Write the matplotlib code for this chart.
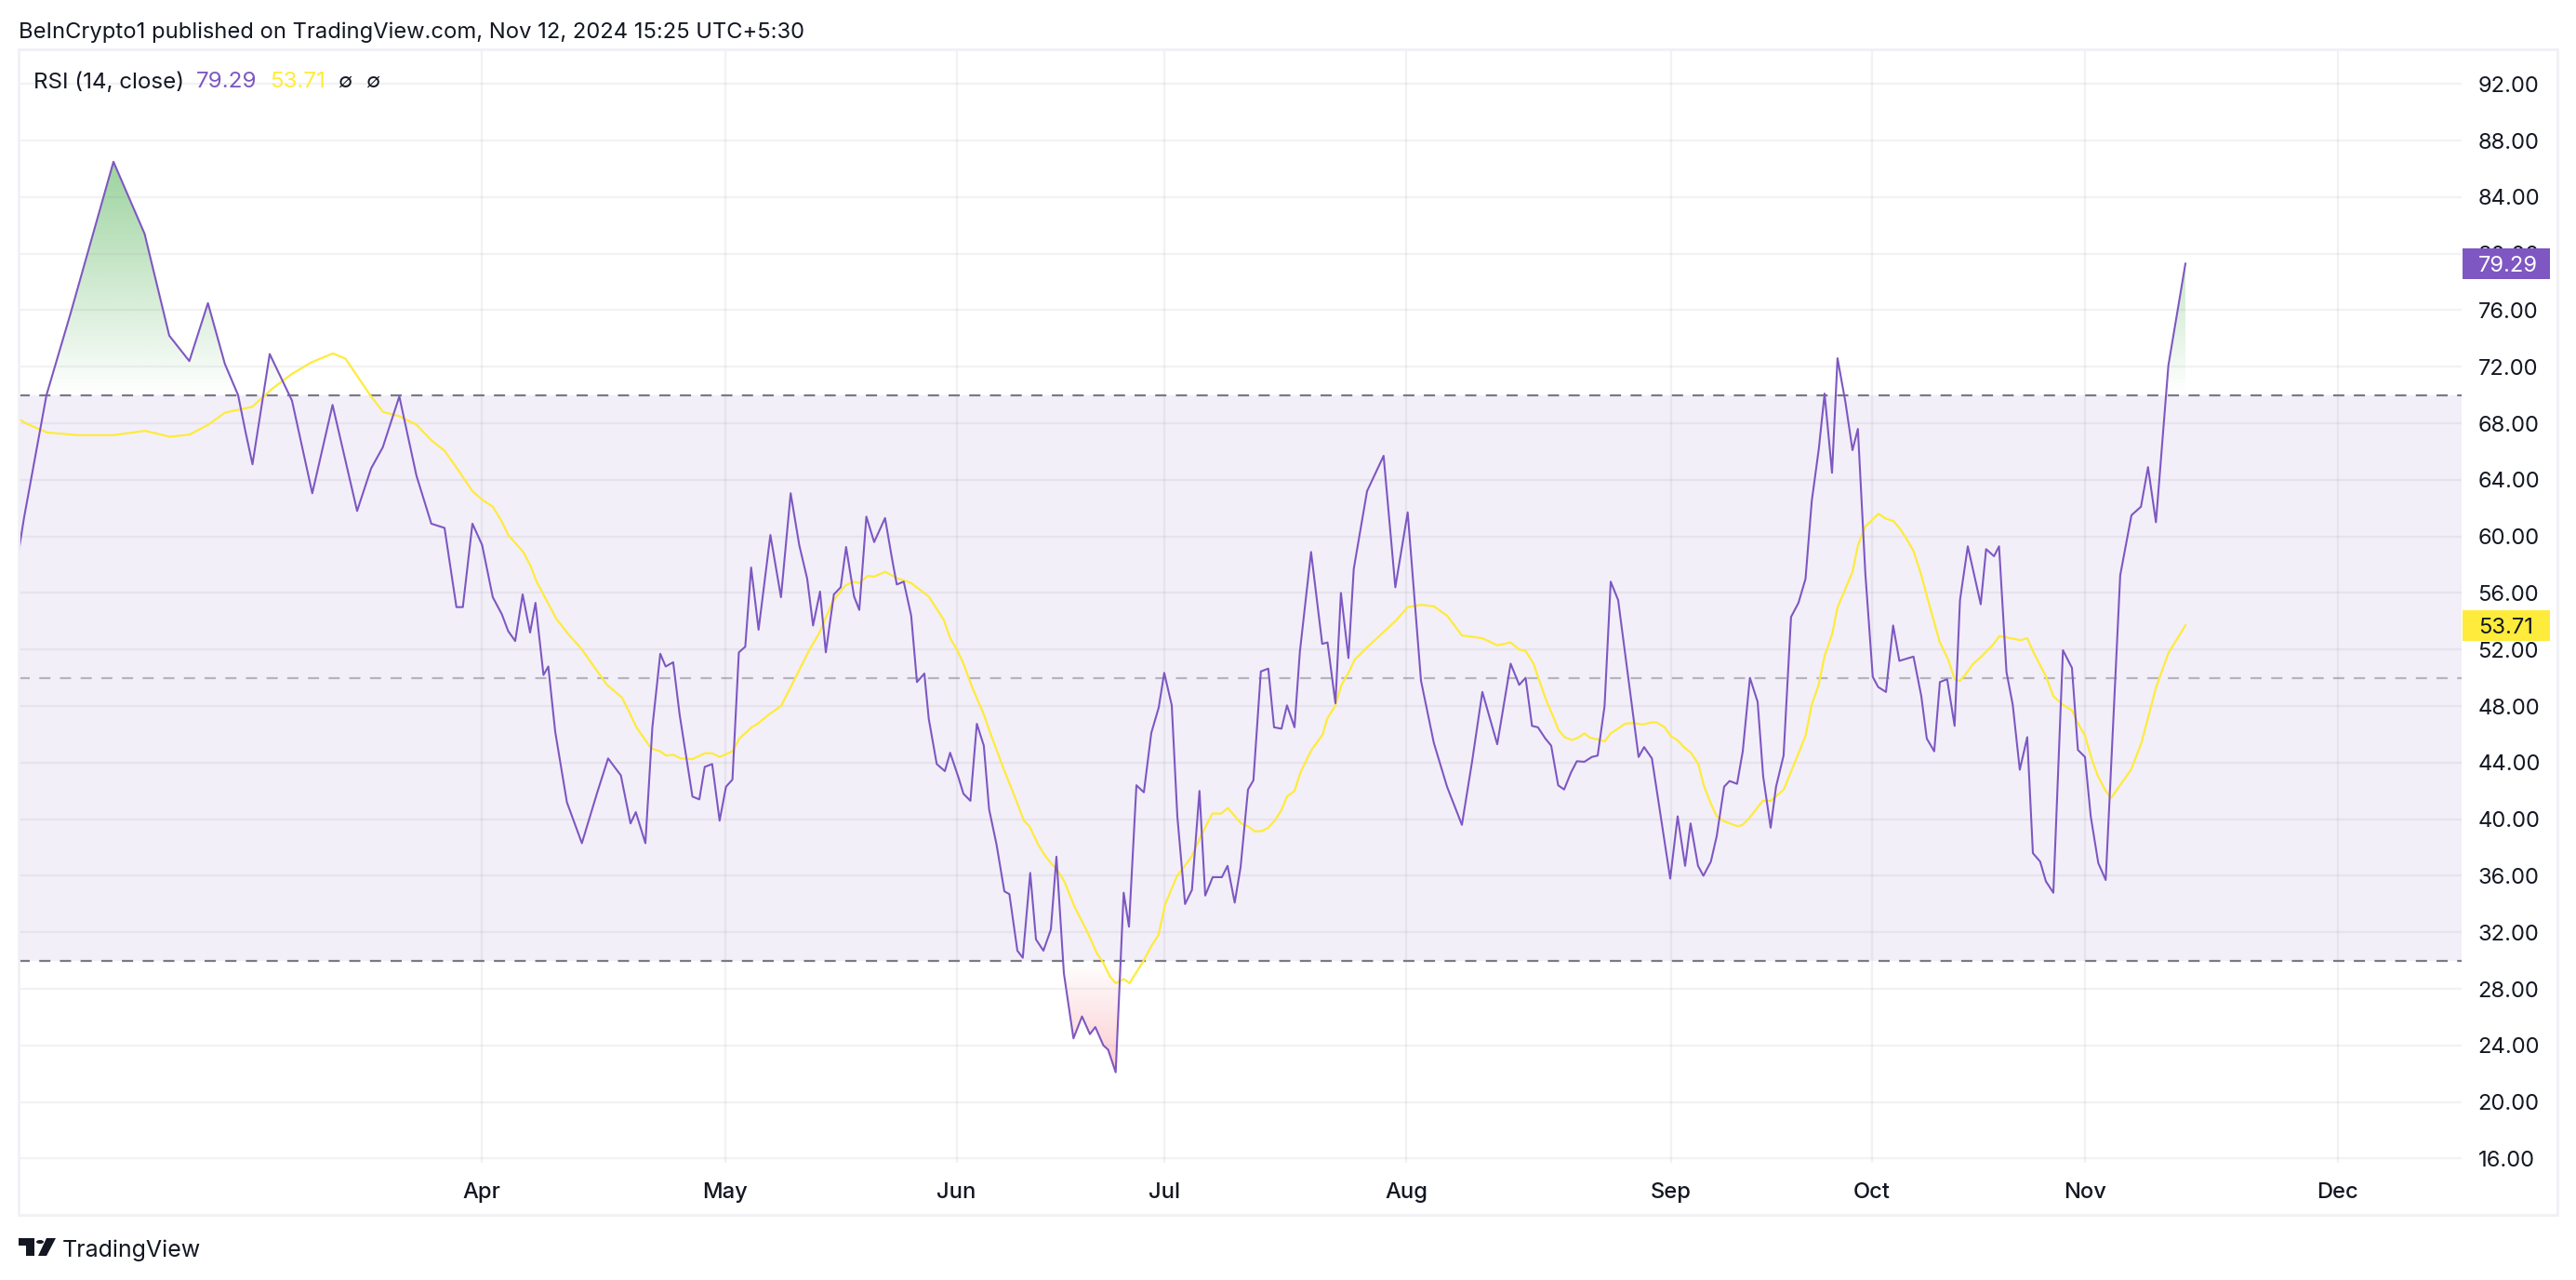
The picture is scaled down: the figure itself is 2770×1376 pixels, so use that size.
import pandas as pd
import matplotlib.pyplot as plt
from matplotlib.path import Path
from matplotlib.patches import Rectangle, Circle, Polygon
from matplotlib.transforms import blended_transform_factory
import numpy as np

plt.rcParams['font.family'] = ['Inter', 'DejaVu Sans']

# Size of the published picture in pixels
fig_w = 2770
fig_h = 1376

# RSI line, (position on the time axis, RSI value)
rsi_points = [
    (20, 58.9), (25.8, 61.3), (50, 70), (76, 75.8), (122, 86.5), (155.5, 81.4), (182, 74.2), (203.6, 72.4),
    (223.6, 76.5), (241.8, 72.2), (256, 70), (264, 67.4), (271.5, 65.1), (290, 72.9), (314, 69.6), (335.8, 63.05),
    (357.6, 69.3), (384, 61.8), (399, 64.8), (411.6, 66.3), (429.4, 69.9), (447.8, 64.3), (463.8, 60.9), (478, 60.6),
    (490.8, 55), (497.7, 55), (508, 60.9), (518.4, 59.4), (529.9, 55.7), (539.6, 54.5), (546.5, 53.3), (554, 52.6),
    (562, 55.9), (570, 53.2), (575.8, 55.3), (584.4, 50.2), (589.6, 50.8), (597, 46.2), (609.6, 41.2), (625.7, 38.3),
    (641.8, 41.8), (653.9, 44.3), (667.6, 43.1), (678, 39.7), (683.7, 40.5), (694, 38.3), (701.5, 46.5), (710, 51.7),
    (715.8, 50.8), (723.9, 51.1), (730.8, 47.4), (744.6, 41.6), (752, 41.4), (757.8, 43.7), (765.8, 43.9), (773.8, 39.9),
    (780.7, 42.3), (787.6, 42.8), (794.5, 51.8), (801.4, 52.2), (807.7, 57.8), (815.7, 53.4), (828.4, 60.1), (839.8, 55.7),
    (850.2, 63.05), (859.4, 59.4), (868, 57), (874.3, 53.7), (881.8, 56.1), (888, 51.8), (896.7, 55.9), (904, 56.4),
    (909.8, 59.25), (918.4, 55.75), (924, 54.8), (931.6, 61.4), (940, 59.6), (951.7, 61.3), (959, 58.5), (964.3, 56.6),
    (971.8, 56.8), (979.8, 54.4), (986, 49.7), (994, 50.3), (998.7, 47.1), (1007.3, 43.9), (1016, 43.4), (1021.7, 44.7),
    (1030.9, 42.9), (1036, 41.8), (1043.5, 41.3), (1050.4, 46.75), (1057.9, 45.2), (1063.6, 40.7), (1071.6, 38.2), (1080, 34.9),
    (1085.4, 34.7), (1094, 30.7), (1099.8, 30.2), (1107.8, 36.2), (1114, 31.5), (1122, 30.7), (1130, 32.2), (1136, 37.35),
    (1144, 29.1), (1154.3, 24.5), (1163.5, 26.05), (1172, 24.8), (1177.8, 25.3), (1186.5, 24), (1191.6, 23.7), (1199.7, 22.1),
    (1208.3, 34.8), (1214, 32.4), (1222, 42.4), (1230, 41.9), (1238, 46.1), (1246, 47.9), (1251.9, 50.35), (1260, 48.06),
    (1266, 40.2), (1274.3, 34), (1281.7, 35), (1289.8, 42), (1296, 34.6), (1304, 35.9), (1313.9, 35.9), (1320, 36.7),
    (1327.7, 34.1), (1334, 36.6), (1342, 42.1), (1347.8, 42.75), (1355.8, 50.45), (1363.8, 50.65), (1370, 46.5), (1378, 46.4),
    (1383.9, 48.05), (1392, 46.5), (1397.7, 51.8), (1409.8, 58.9), (1421.8, 52.4), (1427.5, 52.5), (1436, 48.2), (1441.9, 56),
    (1450, 51.4), (1455.7, 57.7), (1470, 63.2), (1487.8, 65.7), (1500.4, 56.4), (1513.7, 61.7), (1528, 49.8), (1541.8, 45.4),
    (1556, 42.3), (1572, 39.6), (1583, 44.1), (1594, 49), (1610, 45.3), (1624.4, 51), (1633.6, 49.5), (1640.5, 50),
    (1647.4, 46.6), (1653.7, 46.5), (1661.8, 45.7), (1668, 45.2), (1675.5, 42.4), (1681.9, 42.1), (1689.3, 43.3), (1695.6, 44.1),
    (1703.7, 44.06), (1711.7, 44.4), (1718, 44.5), (1725.4, 48), (1732, 56.8), (1740, 55.5), (1762, 44.4), (1767.9, 45.1),
    (1776.3, 44.3), (1796, 35.8), (1804, 40.2), (1812, 36.7), (1817.9, 39.7), (1825.9, 36.7), (1831.7, 36), (1839.7, 37),
    (1846, 38.8), (1854, 42.3), (1859.8, 42.7), (1867.9, 42.5), (1874, 44.8), (1881.7, 50), (1890, 48.3), (1896, 43),
    (1904, 39.4), (1909.8, 42.3), (1917.9, 44.5), (1925.9, 54.3), (1933.9, 55.3), (1941.5, 57), (1948.2, 62.5), (1955.8, 66.2),
    (1962, 70.1), (1970, 64.5), (1975.9, 72.6), (1984.4, 69.5), (1992, 66.1), (1997.8, 67.6), (2005.8, 57.4), (2013.8, 50.07),
    (2019.6, 49.35), (2028, 49), (2035.7, 53.7), (2042.4, 51.2), (2057.6, 51.5), (2066, 48.7), (2071.9, 45.7), (2079.9, 44.8),
    (2086, 49.7), (2093.8, 49.9), (2101.8, 46.6), (2107.6, 55.5), (2116, 59.3), (2129.9, 55.2), (2135.7, 59.1), (2144.2, 58.6),
    (2149.6, 59.3), (2157.6, 50.4), (2164.3, 48.1), (2171.9, 43.5), (2179.9, 45.8), (2186, 37.6), (2193.8, 37), (2200, 35.6),
    (2208, 34.8), (2218.3, 51.95), (2228, 50.7), (2234.4, 44.9), (2242, 44.4), (2248.2, 40.2), (2256.3, 36.9), (2264.3, 35.7),
    (2279.9, 57.26), (2292, 61.5), (2302.2, 62.1), (2309.8, 64.9), (2318.3, 61), (2331.7, 72.1), (2350, 79.29),
]

# Moving average of the RSI, same x positions as above
ma_points = [
    (20.7, 68.3), (27.6, 68), (50.5, 67.35), (84.4, 67.16), (121.7, 67.16), (156, 67.47), (182.5, 67.05), (203.8, 67.2),
    (223.9, 67.9), (242, 68.76), (271, 69.16), (292.8, 70.45), (314, 71.5), (334.5, 72.3), (358, 72.94), (371.5, 72.57),
    (397.9, 70), (412, 68.8), (429.4, 68.5), (447.8, 67.9), (463.8, 66.8), (478, 66.06), (493.7, 64.6), (508, 63.2),
    (518.4, 62.6), (529.9, 62.1), (539.6, 61.05), (546.5, 60.1), (562.6, 58.9), (570.6, 57.9), (577, 56.8), (598, 54.2),
    (611.4, 53.06), (624.6, 52.1), (652.7, 49.5), (668.8, 48.6), (678, 47.4), (684.3, 46.5), (700.3, 45), (710, 44.8),
    (716.4, 44.5), (723.9, 44.56), (731.9, 44.3), (744.6, 44.25), (758.3, 44.67), (766.4, 44.65), (773.8, 44.4), (787.6, 44.8),
    (795, 45.7), (808.3, 46.5), (815.7, 46.8), (826.6, 47.4), (839.8, 48), (855.3, 50), (869.7, 51.9), (881.2, 53.2),
    (895.5, 55.4), (908.6, 56.5), (917.2, 56.8), (924, 56.7), (932.7, 57.2), (940, 57.16), (951.7, 57.5), (964.3, 57.06),
    (979.8, 56.7), (998.7, 55.75), (1014.8, 54.1), (1021.7, 52.8), (1029, 52), (1036, 51), (1045, 49.4), (1057.9, 47.4),
    (1066.5, 45.8), (1079, 43.6), (1092.3, 41.4), (1101, 39.9), (1107, 39.5), (1116.4, 38.2), (1123.9, 37.4), (1131.3, 36.8),
    (1136, 36.5), (1144.5, 35.6), (1155.5, 33.8), (1169.8, 31.95), (1179.6, 30.5), (1185.9, 29.9), (1193.3, 28.9), (1199.7, 28.4),
    (1208.3, 28.7), (1214.6, 28.4), (1228.9, 29.9), (1238.7, 31.1), (1245.6, 31.8), (1253, 34), (1265.7, 36), (1273, 36.6),
    (1281.7, 37.4), (1290.4, 38.7), (1303.6, 40.4), (1313.3, 40.4), (1320.2, 40.8), (1334.6, 39.7), (1342, 39.5), (1349, 39.15),
    (1356.4, 39.15), (1363.8, 39.4), (1370.7, 39.9), (1377.6, 40.6), (1383.9, 41.6), (1392, 42), (1398.3, 43.3), (1409.8, 44.85),
    (1422.4, 46), (1427, 47.1), (1435.6, 48), (1442.5, 49.5), (1450, 50.35), (1456.8, 51.3), (1470, 52.15), (1501, 54.05),
    (1513.7, 55), (1528, 55.16), (1541.8, 55.06), (1556, 54.4), (1572, 53), (1594, 52.8), (1610, 52.3), (1624.4, 52.5),
    (1633.6, 52), (1640.5, 51.9), (1649, 51), (1661.8, 48.55), (1669.2, 47.4), (1676, 46.3), (1682.5, 45.8), (1690.5, 45.6),
    (1698, 45.8), (1703.6, 46.07), (1709.8, 45.76), (1717.9, 45.65), (1725.4, 45.5), (1732, 46.07), (1747.8, 46.76), (1755.8, 46.8),
    (1767, 46.7), (1776.3, 46.85), (1781, 46.85), (1790, 46.5), (1796.9, 45.85), (1803.6, 45.6), (1810.7, 45.1), (1818.3, 44.7),
    (1826.3, 43.9), (1832, 42.4), (1839.7, 41.1), (1846, 40.2), (1854, 39.85), (1868.8, 39.5), (1873.7, 39.6), (1880, 40),
    (1895.5, 41.3), (1904, 41.3), (1917.9, 42.08), (1929.9, 44), (1941.5, 45.9), (1948.2, 48.1), (1955.8, 49.55), (1962, 51.55),
    (1970, 53.06), (1975.9, 54.98), (1984.4, 56.3), (1992, 57.5), (1998, 59.4), (2005.8, 60.7), (2020, 61.6), (2028, 61.25),
    (2035.7, 61.1), (2042.4, 60.6), (2050.4, 59.8), (2057.6, 58.97), (2066, 57.26), (2071.9, 55.8), (2085.7, 52.55), (2095, 51.27),
    (2101.8, 49.9), (2107.6, 49.78), (2113, 50.2), (2121.9, 51), (2129.9, 51.46), (2142, 52.26), (2150, 52.95), (2162, 52.8),
    (2172.3, 52.66), (2179.9, 52.8), (2186.6, 51.8), (2200, 50.1), (2208, 48.7), (2217.9, 48.1), (2228, 47.7), (2234.4, 46.8),
    (2242, 45.9), (2250, 44.1), (2256.3, 43), (2264.3, 42), (2270, 41.5), (2291.5, 43.5), (2302.7, 45.4), (2318.3, 49.3),
    (2331.7, 51.75), (2350, 53.71),
]

rsi_df = pd.DataFrame(rsi_points, columns=['pos', 'rsi'])
ma_df = pd.DataFrame(ma_points, columns=['pos', 'ma'])

# Month labels on the time axis
month_pos = [518, 779.5, 1028.6, 1252, 1512, 1797, 2013, 2242, 2513.5]
month_names = ['Apr', 'May', 'Jun', 'Jul', 'Aug', 'Sep', 'Oct', 'Nov', 'Dec']

purple = '#7E57C2'
yellow = '#FFEB3B'
dark = '#131722'

# Main panel
plt.figure(figsize=(fig_w / 100, fig_h / 100), dpi=100)
plt.axes([20 / fig_w, 1 - 1250 / fig_h, 2626.5 / fig_w, 1197 / fig_h])
ax = plt.gca()
fig = plt.gcf()

# Band between the two RSI levels
plt.axhspan(30, 70, facecolor=purple, alpha=0.095, linewidth=0, zorder=1)
plt.grid(True, color='#2A2E39', alpha=0.06, linewidth=1.6)

# Gradient fills beyond the levels, a colour ramp clipped to the area under the line
x = rsi_df['pos'].values
y = rsi_df['rsi'].values

green_ramp = np.zeros((300, 1, 4))
green_ramp[:, :, 0:3] = np.array([76, 175, 80]) / 255
green_ramp[:, 0, 3] = np.linspace(1, 0, 300)
green_img = plt.imshow(green_ramp, extent=[20, 2646.5, 70, 100], aspect='auto', zorder=1.6)
green_area = plt.fill_between(x, y, 70, where=y > 70, interpolate=True, alpha=0)
green_img.set_clip_path(Path.make_compound_path(*green_area.get_paths()), transform=ax.transData)

red_ramp = np.zeros((300, 1, 4))
red_ramp[:, :, 0:3] = np.array([242, 54, 69]) / 255
red_ramp[:, 0, 3] = np.linspace(0, 1, 300)
red_img = plt.imshow(red_ramp, extent=[20, 2646.5, 0, 30], aspect='auto', zorder=1.6)
red_area = plt.fill_between(x, y, 30, where=y < 30, interpolate=True, alpha=0)
red_img.set_clip_path(Path.make_compound_path(*red_area.get_paths()), transform=ax.transData)

# Level lines
plt.axhline(70, color='#787B86', linewidth=1.6, linestyle=(0, (5.4, 4.6)), zorder=1.8)
plt.axhline(50, color='#787B86', alpha=0.5, linewidth=1.6, linestyle=(0, (5.4, 4.6)), zorder=1.8)
plt.axhline(30, color='#787B86', linewidth=1.6, linestyle=(0, (5.4, 4.6)), zorder=1.8)

# RSI and its average
plt.plot(ma_df['pos'], ma_df['ma'], color=yellow, linewidth=1.6, zorder=2)
plt.plot(rsi_df['pos'], rsi_df['rsi'], color=purple, linewidth=1.5, zorder=2.1)

plt.xlim(20, 2646.5)
plt.ylim(15.7, 94.45)
plt.xticks(month_pos, month_names, fontsize=17.1, color=dark, fontweight='medium')
plt.yticks(np.arange(16, 96, 4), [f'{v:.2f}' for v in np.arange(16, 96, 4)], fontsize=17.1, color=dark)
ax.yaxis.tick_right()
ax.tick_params(axis='both', length=0)
ax.tick_params(axis='y', pad=13)
ax.tick_params(axis='x', pad=15)
for side in ax.spines:
    ax.spines[side].set_visible(False)

# Last value badges on the price scale
badge = blended_transform_factory(ax.transAxes, ax.transData)
ax.add_patch(Rectangle((1.0006, 79.29 - 1.09), 0.0358, 2.18, transform=badge, facecolor=purple, clip_on=False, zorder=5))
ax.add_patch(Rectangle((1.0006, 53.71 - 1.09), 0.0358, 2.18, transform=badge, facecolor=yellow, clip_on=False, zorder=5))
plt.text(1.0070, 79.29, '79.29', transform=badge, color='white', fontsize=17.1, va='center_baseline', zorder=6)
plt.text(1.0070, 53.71, '53.71', transform=badge, color=dark, fontsize=17.1, va='center_baseline', zorder=6)

# Frame around chart and scales
fig.add_artist(Rectangle((20 / fig_w, 1 - 1306 / fig_h), 2730 / fig_w, 1253 / fig_h, fill=False,
                         edgecolor='#F0F0F6', linewidth=2, transform=fig.transFigure))

# Header and legend
plt.figtext(20 / fig_w, 1 - 32 / fig_h, 'BeInCrypto1 published on TradingView.com, Nov 12, 2024 15:25 UTC+5:30',
            fontsize=17.1, color=dark, va='center_baseline')
plt.figtext(36 / fig_w, 1 - 86 / fig_h, 'RSI (14, close)', fontsize=17.4, color=dark, va='center_baseline')
plt.figtext(211 / fig_w, 1 - 86 / fig_h, '79.29', fontsize=17.4, color=purple, va='center_baseline')
plt.figtext(290 / fig_w, 1 - 86 / fig_h, '53.71', fontsize=17.4, color=yellow, va='center_baseline')
plt.figtext(371.5 / fig_w, 1 - 86 / fig_h, '∅', fontsize=16, color=dark, va='center_baseline', ha='center')
plt.figtext(402 / fig_w, 1 - 86 / fig_h, '∅', fontsize=16, color=dark, va='center_baseline', ha='center')

# Logo in the bottom corner
fig.add_artist(Polygon([(20 / fig_w, 1 - 1331 / fig_h), (37 / fig_w, 1 - 1331 / fig_h), (37 / fig_w, 1 - 1350 / fig_h),
                        (28 / fig_w, 1 - 1350 / fig_h), (28 / fig_w, 1 - 1339 / fig_h), (20 / fig_w, 1 - 1339 / fig_h)],
                       facecolor=dark, edgecolor='none', transform=fig.transFigure))
fig.add_artist(Circle((43 / fig_w, 1 - 1335 / fig_h), 4 / fig_w, facecolor=dark, edgecolor='none', transform=fig.transFigure))
fig.add_artist(Polygon([(50 / fig_w, 1 - 1331 / fig_h), (60 / fig_w, 1 - 1331 / fig_h), (50 / fig_w, 1 - 1350 / fig_h),
                        (41 / fig_w, 1 - 1350 / fig_h)], facecolor=dark, edgecolor='none', transform=fig.transFigure))
plt.figtext(67 / fig_w, 1 - 1342 / fig_h, 'TradingView', fontsize=18, color=dark, va='center_baseline')

plt.savefig('out.png', dpi=100)
